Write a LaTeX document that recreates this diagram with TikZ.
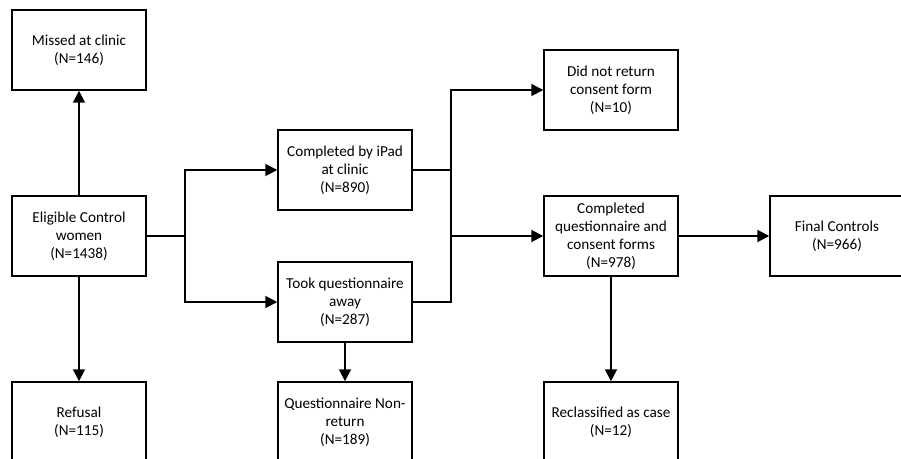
\documentclass[tikz,border=0pt]{standalone}
\usepackage{fontspec}
\setmainfont{Carlito}
\usetikzlibrary{arrows.meta}

\begin{document}
\begin{tikzpicture}[x=0.75pt, y=-0.75pt, >={Triangle[length=9pt,width=9pt]},
  box/.style={draw, line width=1.1pt, minimum width=100.5pt, minimum height=60pt,
    align=center, font=\fontsize{11.4}{13.5}\selectfont, inner sep=2pt},
  flow/.style={line width=1.4pt}]
\useasboundingbox (0,0) rectangle (901,458);
% Left column
\node[box] (missed) at (79,50) {Missed at clinic\\(N=146)};
\node[box] (eligible) at (79,236) {Eligible Control\\women\\(N=1438)};
\node[box] (refusal) at (79,422) {Refusal\\(N=115)};
% Middle column
\node[box] (ipad) at (345,170) {Completed by iPad\\at clinic\\(N=890)};
\node[box] (away) at (345,302) {Took questionnaire\\away\\(N=287)};
\node[box] (nonreturn) at (345,422) {Questionnaire Non-\\return\\(N=189)};
% Right column
\node[box] (noconsent) at (611,90) {Did not return\\consent form\\(N=10)};
\node[box] (complete) at (611,236) {Completed\\questionnaire and\\consent forms\\(N=978)};
\node[box] (reclass) at (611,422) {Reclassified as case\\(N=12)};
\node[box] (final) at (837,236) {Final Controls\\(N=966)};
% Branch points
\coordinate (split) at (185,236);
\coordinate (merge) at (451,236);
% Connectors
\draw[flow, ->] (eligible) -- (missed);
\draw[flow, ->] (eligible) -- (refusal);
\draw[flow] (eligible) -- (split);
\draw[flow, ->] (split) |- (ipad);
\draw[flow, ->] (split) |- (away);
\draw[flow, ->] (away) -- (nonreturn);
\draw[flow] (ipad) -| (merge);
\draw[flow] (away) -| (merge);
\draw[flow, ->] (merge) |- (noconsent);
\draw[flow, ->] (merge) -- (complete);
\draw[flow, ->] (complete) -- (reclass);
\draw[flow, ->] (complete) -- (final);
\end{tikzpicture}
\end{document}
